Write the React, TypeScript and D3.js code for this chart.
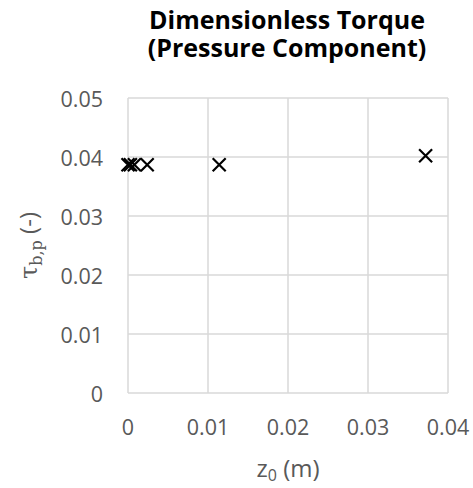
import * as d3 from 'd3';

const zValues = [0, 0.0003, 0.0008, 0.0024, 0.0114, 0.0372];
const tauValues = [0.0387, 0.0387, 0.0387, 0.0387, 0.0387, 0.0402];
const xTicks = [0, 0.01, 0.02, 0.03, 0.04];
const yTicks = [0, 0.01, 0.02, 0.03, 0.04, 0.05];
const titleLines = ['Dimensionless Torque', '(Pressure Component)'];

const width = 473;
const height = 488;
const margin = { top: 98, right: 25, bottom: 95, left: 128 };

const App = () => {
    const x = d3.scaleLinear().domain([0, 0.04]).range([margin.left, width - margin.right]);
    const y = d3.scaleLinear().domain([0, 0.05]).range([height - margin.bottom, margin.top]);
    const fmt = (d: number) => (d === 0 ? '0' : d3.format('.2f')(d));
    const points = zValues.map((z, i) => ({ z, tau: tauValues[i] }));
    const s = 6.5; // half size of the x marker
    const font = "'Open Sans', sans-serif";

    return (
        <svg width={width} height={height} style={{ position: 'absolute', left: 0, top: 0, background: '#fff' }}>
            {/* title, two lines in one text */}
            <text fontFamily={font} fontWeight="bold" fontSize={25} fill="#000" textAnchor="middle">
                <tspan x={287} y={29}>{titleLines[0]}</tspan>
                <tspan x={287} y={57}>{titleLines[1]}</tspan>
            </text>

            {/* grid */}
            <g stroke="#d9d9d9" strokeWidth={1.5}>
                {yTicks.map(t => (
                    <line key={'gy' + t} x1={x(0)} x2={x(0.04)} y1={y(t)} y2={y(t)} />
                ))}
                {xTicks.map(t => (
                    <line key={'gx' + t} x1={x(t)} x2={x(t)} y1={y(0)} y2={y(0.05)} />
                ))}
            </g>

            {/* tick labels */}
            <g fontFamily={font} fontSize={21.5} fill="#595959">
                {yTicks.map(t => (
                    <text key={'ly' + t} x={margin.left - 25} y={y(t) + 3} textAnchor="end" dominantBaseline="middle">
                        {fmt(t)}
                    </text>
                ))}
                {xTicks.map(t => (
                    <text key={'lx' + t} x={x(t)} y={435} textAnchor="middle">
                        {fmt(t)}
                    </text>
                ))}
            </g>

            {/* axis titles */}
            <text x={(x(0) + x(0.04)) / 2} y={477} textAnchor="middle" fontFamily={font} fontSize={24} fill="#595959">
                z<tspan fontSize={16} dy={4}>0</tspan><tspan dy={-4}> (m)</tspan>
            </text>
            <text
                transform={`translate(37, ${(y(0) + y(0.05)) / 2}) rotate(-90)`}
                textAnchor="middle"
                fontSize={24}
                fill="#595959"
            >
                <tspan fontFamily="'DejaVu Serif', serif">τ</tspan>
                <tspan fontFamily="'DejaVu Serif', serif" fontSize={16} dy={5}>b,p</tspan>
                <tspan fontFamily={font} dy={-5}> (-)</tspan>
            </text>

            {/* markers */}
            <g stroke="#000" strokeWidth={2.2} fill="none">
                {points.map((p, i) => (
                    <path
                        key={i}
                        d={`M${x(p.z) - s},${y(p.tau) - s}L${x(p.z) + s},${y(p.tau) + s}M${x(p.z) - s},${y(p.tau) + s}L${x(p.z) + s},${y(p.tau) - s}`}
                    />
                ))}
            </g>
        </svg>
    );
};

export default App;
